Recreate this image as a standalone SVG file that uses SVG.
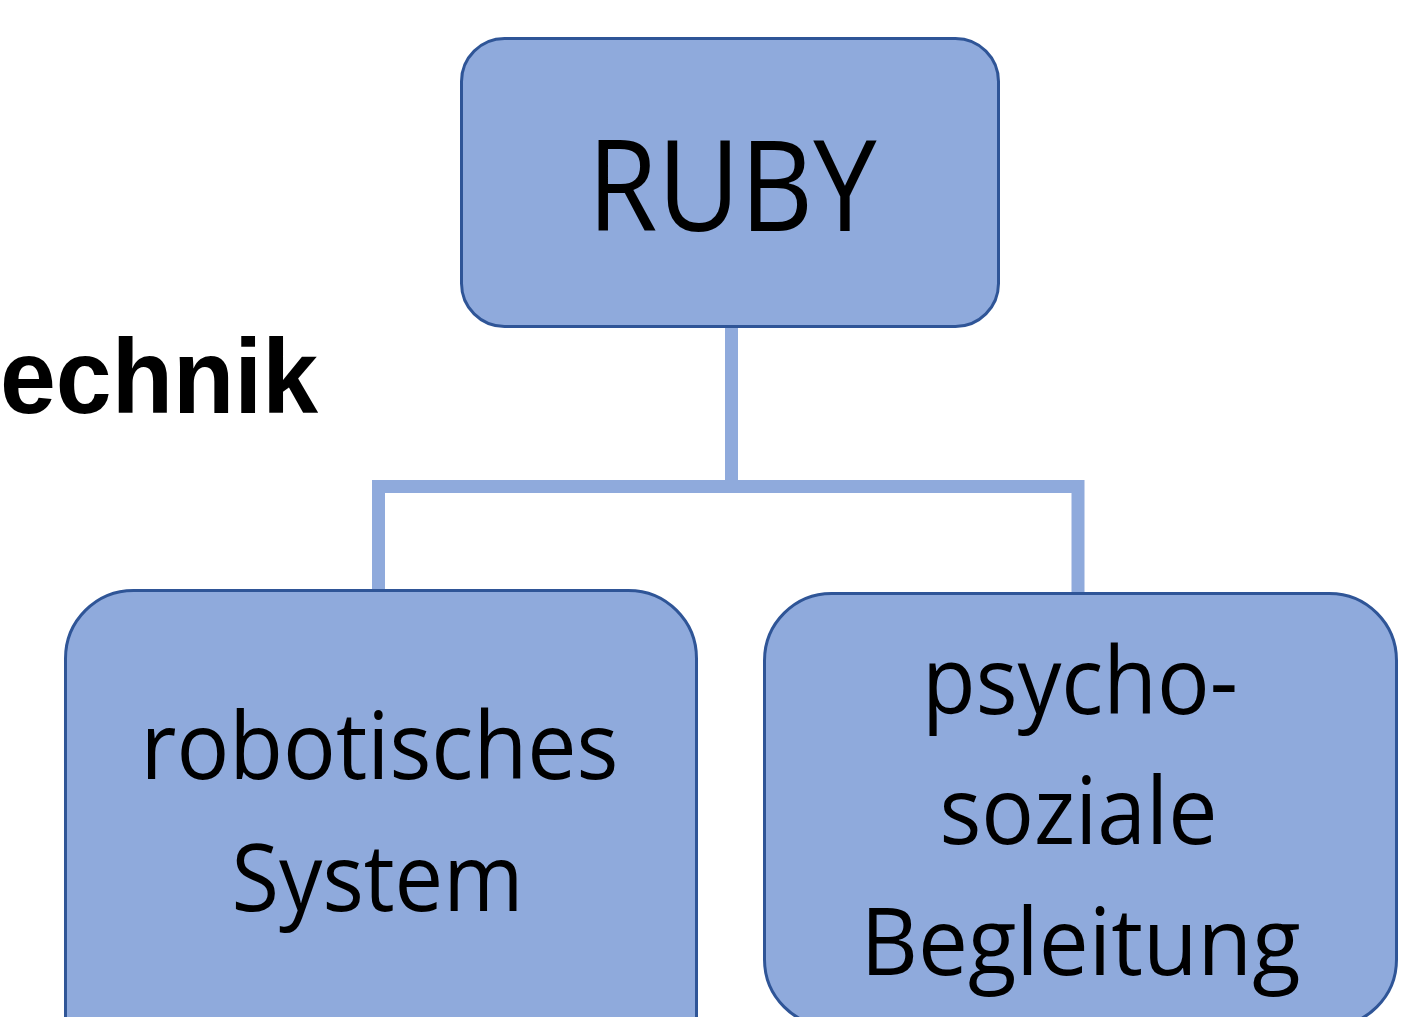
<svg xmlns="http://www.w3.org/2000/svg" width="1418" height="1017" viewBox="0 0 1418 1017">
  <style>
    .box { fill: #8FAADC; stroke: #2F5597; stroke-width: 3; }
    .link { fill: none; stroke: #8FAADC; stroke-width: 13; stroke-linejoin: miter; stroke-linecap: butt; }
    .lbl { font-family: "Open Sans", "Noto Sans", "DejaVu Sans", sans-serif; fill: #000; text-anchor: middle; }
    .side { font-family: "Liberation Sans", Arial, sans-serif; font-weight: bold; fill: #000; }
  </style>
  <rect width="1418" height="1017" fill="#FFFFFF"/>

  <!-- side heading at the left edge -->
  <text class="side" x="0" y="413" font-size="105" textLength="318" lengthAdjust="spacingAndGlyphs">echnik</text>

  <!-- connectors: tree from RUBY to its two children -->
  <g id="connectors">
    <path class="link" d="M731.5 328 V486.5 H378.5 V590"/>
    <path class="link" d="M731.5 486.5 H1078 V593"/>
  </g>

  <g id="node-ruby">
    <rect class="box" x="461.5" y="38.5" width="537" height="288" rx="43" ry="43"/>
    <text class="lbl" x="732" y="231" font-size="126" textLength="289" lengthAdjust="spacingAndGlyphs">RUBY</text>
  </g>

  <g id="node-robotik">
    <rect class="box" x="65.5" y="590.5" width="631" height="520" rx="68" ry="68"/>
    <text class="lbl" x="379.5" y="779" font-size="94" textLength="478" lengthAdjust="spacingAndGlyphs">robotisches</text>
    <text class="lbl" x="377.5" y="911" font-size="94" textLength="292" lengthAdjust="spacingAndGlyphs">System</text>
  </g>

  <g id="node-begleitung">
    <rect class="box" x="764.5" y="593.5" width="632" height="433" rx="67" ry="67"/>
    <text class="lbl" x="1080" y="714" font-size="94" textLength="316" lengthAdjust="spacingAndGlyphs">psycho-</text>
    <text class="lbl" x="1078.5" y="844" font-size="94" textLength="278" lengthAdjust="spacingAndGlyphs">soziale</text>
    <text class="lbl" x="1080.5" y="975" font-size="94" textLength="440" lengthAdjust="spacingAndGlyphs">Begleitung</text>
  </g>
</svg>
